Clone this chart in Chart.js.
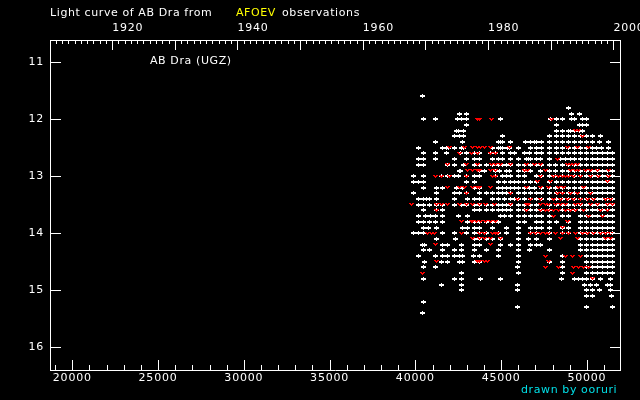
<!DOCTYPE html>
<html>
<head>
<meta charset="utf-8">
<script src="https://cdn.jsdelivr.net/npm/chart.js@4.4.1/dist/chart.umd.min.js"></script>
<style>
  html, body { margin: 0; padding: 0; background: #000; }
</style>
</head>
<body>
<canvas id="lc" width="640" height="400"></canvas>
<script>
/* ===== data: [magnitude, [JD - 2400000 ...]] ===== */
const whiteRows = [
  [11.6, [40445]],
  [11.8, [48927]],
  [11.9, [42598, 43006, 49101, 49566]],
  [12.0, [40503, 41202, 42482, 42715, 43006, 44976, 47881, 48229, 48578, 49101, 49275, 49740, 49973]],
  [12.1, [43006, 48229, 49566, 49740, 49973]],
  [12.2, [42424, 42540, 42831, 48229, 48578, 48927, 49043, 49275, 49566, 49740]],
  [12.3, [42307, 42598, 42831, 45092, 47823, 48229, 48578, 48927, 49275, 49624, 49973, 50321, 50786]],
  [12.4, [41202, 42773, 44860, 44976, 45092, 45557, 46429, 46719, 46952, 47068, 47358, 47823, 48229, 48578, 48927, 49275, 49624, 49973, 50321, 50728, 51251]],
  [12.5, [40154, 41609, 41842, 41958, 42307, 42715, 42831, 44511, 44860, 44976, 45092, 45383, 45499, 46022, 46719, 47068, 47358, 47823, 48229, 48578, 48927, 49275, 49624, 49973, 50321, 50554, 50864, 51251]],
  [12.6, [40503, 41202, 41842, 42657, 43006, 43471, 43756, 44395, 44685, 45092, 45557, 45789, 46371, 46661, 47068, 47358, 47823, 48229, 48578, 48927, 49275, 49624, 49973, 50321, 50593, 50883, 51174, 51464]],
  [12.7, [40154, 40503, 41202, 42307, 43006, 43471, 43756, 44511, 44860, 45092, 45557, 46022, 46487, 46603, 46719, 47068, 47300, 47823, 48462, 48752, 49043, 49275, 49624, 49973, 50321, 50593, 50883, 51174, 51464]],
  [12.8, [40154, 40503, 41900, 42307, 42831, 43471, 43756, 44162, 44511, 44860, 45092, 45325, 45557, 46022, 46371, 46719, 47068, 47358, 47823, 48171, 48578, 48927, 49275, 49624, 49973, 50321, 50593, 50883, 51174, 51464]],
  [12.9, [42579, 42657, 43756, 44046, 44685, 44918, 45325, 45499, 46022, 46371, 46719, 47300, 47823, 48171, 48578, 48927, 49275, 49624, 49973, 50321, 50593, 50883, 51174, 51464]],
  [13.0, [39863, 40503, 41551, 41900, 42307, 42540, 43006, 43471, 43756, 44685, 45092, 45325, 45557, 46022, 46371, 47068, 47358, 47823, 48171, 48578, 48927, 49275, 49624, 49973, 50321, 50593, 50883, 51174, 51464]],
  [13.1, [39863, 40154, 40503, 43006, 43471, 44860, 45208, 45557, 45789, 46022, 46371, 46719, 47068, 47823, 48229, 48578, 48927, 49275, 49624, 49973, 50321, 50593, 50883, 51174, 51464]],
  [13.2, [40503, 41260, 41609, 42424, 42773, 43471, 43756, 44860, 45092, 45325, 45557, 45789, 46022, 46371, 46661, 46952, 47358, 47823, 48171, 48578, 48927, 49275, 49624, 49973, 50321, 50593, 50883, 51174, 51464]],
  [13.3, [39863, 41260, 42307, 42598, 43006, 43756, 44162, 44511, 44860, 45092, 45325, 45557, 46022, 46371, 46719, 47068, 47358, 47823, 48229, 48578, 48927, 49275, 49624, 49973, 50321, 50593, 50883, 51174, 51464]],
  [13.4, [40154, 40503, 40678, 40852, 41260, 42307, 43064, 43471, 43756, 44511, 44860, 45208, 45557, 45789, 46022, 46371, 46719, 47068, 47358, 47823, 48229, 48578, 48927, 49275, 49624, 49973, 50321, 50593, 50883, 51174, 51464]],
  [13.5, [40154, 40503, 40852, 41260, 41609, 42307, 42715, 43006, 43471, 43756, 44162, 44511, 44860, 45092, 45325, 45557, 46022, 46371, 46719, 47068, 47823, 48229, 48578, 48927, 49275, 49624, 49973, 50321, 50593, 50883, 51174, 51464]],
  [13.6, [40503, 41260, 41609, 43471, 43756, 44162, 44511, 44860, 45092, 45325, 45557, 46022, 46371, 46719, 47068, 47358, 47823, 48578, 48927, 49275, 49624, 49973, 50321, 50593, 50883, 51174, 51464]],
  [13.7, [40154, 40620, 40911, 41202, 41609, 42540, 43064, 44976, 45208, 45557, 46022, 46371, 46719, 47068, 47358, 47823, 48578, 48927, 49624, 49973, 50321, 50593, 50883, 51174, 51464]],
  [13.8, [40212, 40503, 40852, 41202, 41609, 43064, 43471, 43756, 44162, 44511, 44860, 46022, 46371, 47068, 47358, 47823, 48229, 48927, 49624, 49973, 50321, 50593, 50883, 51174, 51464]],
  [13.9, [40503, 40794, 41260, 42773, 43064, 43471, 43756, 44511, 45325, 46022, 46719, 47068, 47358, 47823, 48578, 48927, 49624, 49973, 50321, 50593, 50883, 51174, 51464]],
  [14.0, [39863, 40154, 40503, 41609, 42307, 43006, 43471, 43756, 44162, 44860, 45325, 46022, 46719, 47068, 47823, 48578, 48927, 49624, 49973, 50321, 50593, 50883, 51174, 51464]],
  [14.1, [41260, 42366, 43471, 43756, 44162, 44511, 44976, 46022, 46603, 47068, 47823, 49624, 49973, 50321, 50593, 50883, 51174, 51464]],
  [14.2, [40445, 40561, 41609, 41900, 42715, 43471, 43756, 44976, 45557, 46022, 46719, 47068, 47300, 49624, 49973, 50321, 50593, 50883, 51174, 51464]],
  [14.3, [40503, 40852, 41609, 42307, 42715, 43471, 44162, 44860, 46022, 46661, 47823, 49624, 49973, 50321, 50593, 50883, 51174, 51464]],
  [14.4, [40154, 41202, 41609, 41900, 42307, 42598, 42773, 43413, 43756, 44860, 46022, 48578, 49973, 50321, 50593, 50883, 51174, 51464]],
  [14.5, [40561, 41551, 41900, 42598, 42773, 43471, 43756, 46022, 47823, 48578, 49973, 50321, 50593, 50883, 51174, 51464]],
  [14.6, [40503, 41202, 45964, 48578, 49973, 50321, 50593, 50883, 51174, 51464]],
  [14.7, [42676, 46022, 48578, 49973, 50321, 50593, 50883, 51174, 51464]],
  [14.8, [40503, 42307, 42676, 43814, 44976, 48520, 49275, 49508, 49740, 49973, 50321, 50786, 51367]],
  [14.9, [41551, 42715, 45964, 49856, 50205, 50554, 51174, 51367]],
  [15.0, [42715, 45964, 49973, 50321, 50728, 51367]],
  [15.1, [49973, 50321, 51425]],
  [15.2, [40503]],
  [15.3, [45964, 49973, 51484]],
  [15.4, [40445]]
];

/* red "fainter than" marks */
const redRows = [
  [12.0, [43646, 43717, 44434, 47919]],
  [12.2, [49333, 49527]],
  [12.3, [49721]],
  [12.5, [42016, 42870, 43355, 43620, 43814, 44007, 44395, 45460, 48849, 49430, 50108]],
  [12.6, [42579, 43258, 43646, 44395, 44685]],
  [12.7, [48268]],
  [12.8, [41900, 42967, 43646, 44434, 44685, 44976, 45557, 46487, 46952, 47300, 48849, 49043, 49237, 49430]],
  [12.9, [43064, 43355, 43646, 43717, 44395, 44685, 46371, 46526, 47591, 49043, 49333, 49527, 49915, 50205, 50593, 51270]],
  [13.0, [41163, 41551, 41997, 42986, 44492, 44685, 47300, 48074, 48365, 48559, 48752, 48946, 49237, 49624, 50205, 50689, 51270]],
  [13.1, [47107, 47881, 51174]],
  [13.2, [41900, 42579, 42870, 43355, 43646, 43717, 44395, 46487, 47300, 47784, 48365, 48656, 49818]],
  [13.3, [42967, 45557, 48268, 48559, 49043, 49430, 50205]],
  [13.4, [45944, 46719, 47300, 48074, 48462, 48849, 49237, 49624, 50011, 50399, 51077, 51367]],
  [13.5, [39766, 41221, 41551, 41900, 42579, 42967, 43355, 43717, 44104, 44589, 45557, 46487, 46622, 47300, 47591, 47784, 48171, 48462, 48752, 49333, 49624, 50205, 50593, 51174, 51464]],
  [13.6, [41221, 46487, 47300, 47591, 47784, 48074, 48365, 48752, 49043, 49333, 49818, 50786, 51174]],
  [13.7, [48074, 50108, 50883]],
  [13.8, [42676, 43258, 43355, 43549, 43814, 44104, 44395, 44685, 48849]],
  [13.9, [48559]],
  [14.0, [40736, 40930, 41124, 42676, 43717, 44007, 44492, 44685, 44782, 46719, 47010, 47300, 47591, 47784, 48171, 48559, 48946, 49333, 49721, 50011, 50399, 50786, 51077, 51367]],
  [14.1, [43355, 43717, 44007, 44395, 44976, 48462, 49430, 51077, 51367]],
  [14.2, [41163, 44395]],
  [14.4, [47591, 48752, 49140, 49624]],
  [14.5, [41221, 43646, 43717, 44007, 44201, 47784]],
  [14.6, [47591, 48365, 49237, 49527, 49818, 50108]],
  [14.7, [40445, 49140]],
  [14.8, [50302]]
];

const jdTicks = [20000, 25000, 30000, 35000, 40000, 45000, 50000];
const yearTicks = [1920, 1940, 1960, 1980, 2000];
const magTicks = [11, 12, 13, 14, 15, 16];

const jdMin = 18700, jdMax = 51930;
const FONT = { family: 'DejaVu Sans', size: 11 };

function toPoints(rows) {
  const pts = [];
  rows.forEach(r => r[1].forEach(jd => pts.push({ x: jd, y: r[0] })));
  return pts;
}
function jdToYear(jd) { return 2000 + (jd - 51544.5) / 365.25; }

// white plus: wide 2px bar, 1px stem
const plusMark = document.createElement('canvas');
plusMark.width = 5; plusMark.height = 4;
(function () {
  const c = plusMark.getContext('2d');
  c.fillStyle = '#fff';
  c.fillRect(0, 1, 5, 2);
  c.fillRect(2, 0, 1, 4);
})();

// small red "v"
const vMark = document.createElement('canvas');
vMark.width = 5; vMark.height = 3;
(function () {
  const c = vMark.getContext('2d');
  c.fillStyle = '#ff0000';
  c.fillRect(0, 0, 2, 1); c.fillRect(3, 0, 2, 1);
  c.fillRect(1, 1, 3, 1);
  c.fillRect(2, 2, 1, 1);
})();

/* ---- inward tick marks + texts ---- */
const frameTicks = {
  id: 'frameTicks',
  beforeDraw(chart) {
    chart.ctx.letterSpacing = '0.8px';
    chart.ctx.imageSmoothingEnabled = false;
  },
  beforeDatasetsDraw(chart) {
    chart.ctx.imageSmoothingEnabled = false;
  },
  afterDraw(chart) {
    const ctx = chart.ctx;
    const a = chart.chartArea;
    const sx = chart.scales.x, st = chart.scales.x2, sy = chart.scales.y;
    ctx.save();
    ctx.strokeStyle = '#fff';
    ctx.lineWidth = 1;
    ctx.beginPath();
    for (let v = 19000; v <= 51000; v += 1000) {
      const px = Math.round(sx.getPixelForValue(v)) + 0.5;
      const len = v % 5000 === 0 ? 10 : 5;
      ctx.moveTo(px, a.bottom); ctx.lineTo(px, a.bottom - len);
    }
    for (let yr = 1911; yr <= 2000; yr++) {
      const px = Math.round(st.getPixelForValue(yr)) + 0.5;
      const len = yr % 10 === 0 ? 10 : 4;
      ctx.moveTo(px, a.top); ctx.lineTo(px, a.top + len);
    }
    magTicks.forEach(m => {
      const py = Math.round(sy.getPixelForValue(m)) + 0.5;
      ctx.moveTo(a.left, py); ctx.lineTo(a.left + 11, py);
      ctx.moveTo(a.right, py); ctx.lineTo(a.right - 10, py);
    });
    ctx.stroke();

    ctx.font = '11px "DejaVu Sans"';
    ctx.letterSpacing = '0.6px';
    ctx.textBaseline = 'alphabetic';
    ctx.fillStyle = '#fff';
    ctx.fillText('Light curve of AB Dra from', 50, 16);
    ctx.fillStyle = '#ffff00';
    ctx.fillText('AFOEV', 236, 16);
    ctx.fillStyle = '#fff';
    ctx.fillText('observations', 282, 16);
    ctx.fillText('AB Dra (UGZ)', 150, 64);
    ctx.fillStyle = '#00e0e8';
    ctx.fillText('drawn by ooruri', 521, 393);
    ctx.restore();
  }
};

const noPad = s => { s.paddingLeft = 0; s.paddingRight = 0; s.paddingTop = 0; s.paddingBottom = 0; };

new Chart(document.getElementById('lc'), {
  type: 'scatter',
  data: {
    datasets: [{
      label: 'fainter than',
      data: toPoints(redRows),
      pointStyle: vMark,
      pointRadius: 3,
      order: 0
    }, {
      label: 'visual',
      data: toPoints(whiteRows),
      pointStyle: plusMark,
      pointRadius: 3,
      order: 1
    }]
  },
  options: {
    responsive: false,
    animation: false,
    layout: { padding: 0 },
    plugins: { legend: { display: false }, tooltip: { enabled: false } },
    scales: {
      x: {
        type: 'linear', position: 'bottom', min: jdMin, max: jdMax,
        afterFit: s => { s.height = 30; noPad(s); },
        border: { color: '#fff', width: 1 },
        grid: { display: false, drawTicks: false },
        afterBuildTicks: s => { s.ticks = jdTicks.map(v => ({ value: v })); },
        ticks: { color: '#fff', font: FONT, padding: 2, maxRotation: 0, autoSkip: false,
                 callback: v => String(v) }
      },
      x2: {
        type: 'linear', position: 'top', min: jdToYear(jdMin), max: jdToYear(jdMax),
        afterFit: s => { s.height = 40; noPad(s); },
        border: { color: '#fff', width: 1 },
        grid: { display: false, drawTicks: false },
        afterBuildTicks: s => { s.ticks = yearTicks.map(v => ({ value: v })); },
        ticks: { color: '#fff', font: FONT, padding: 5, align: 'start', maxRotation: 0, autoSkip: false,
                 callback: v => String(v) }
      },
      y: {
        type: 'linear', position: 'left', reverse: true, min: 10.61, max: 16.4,
        afterFit: s => { s.width = 50; noPad(s); },
        border: { color: '#fff', width: 1 },
        grid: { display: false, drawTicks: false },
        afterBuildTicks: s => { s.ticks = magTicks.map(v => ({ value: v })); },
        ticks: { color: '#fff', font: FONT, padding: 6, callback: v => String(v) }
      },
      y2: {
        type: 'linear', position: 'right', reverse: true, min: 10.61, max: 16.4,
        afterFit: s => { s.width = 20; noPad(s); },
        border: { color: '#fff', width: 1 },
        grid: { display: false, drawTicks: false },
        ticks: { display: false }
      }
    }
  },
  plugins: [frameTicks]
});
</script>
</body>
</html>
